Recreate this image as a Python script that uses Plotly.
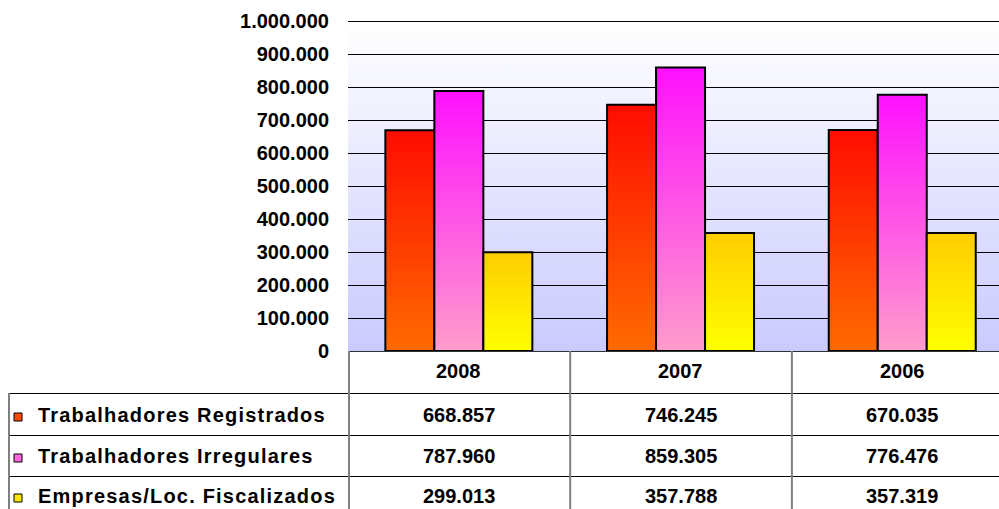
import plotly.graph_objects as go

# Source data
years = ["2008", "2007", "2006"]
series_names = ["Trabalhadores Registrados", "Trabalhadores Irregulares", "Empresas/Loc. Fiscalizados"]
registrados = [668857, 746245, 670035]
irregulares = [787960, 859305, 776476]
empresas = [299013, 357788, 357319]
y_ticks = list(range(0, 1000001, 100000))

series_values = [registrados, irregulares, empresas]
# (bottom colour, top colour) for each series' vertical gradient
series_colors = [("#ff6a00", "#ff0c00"), ("#ff9dcc", "#ff10ff"), ("#ffff00", "#ffcc00")]
key_colors = ["#ff4a00", "#ff66dd", "#ffe600"]

W, H = 999, 509
L, T, B = 348, 21, 351          # plot area pixel edges (left, top, bottom)
R = W
cat_w = 221.7                   # pixel width of one category
x_lo = -0.5
x_hi = x_lo + (R - L) / cat_w
bar_w = 0.221
half_px = 0.5 * y_ticks[-1] / (B - T)   # half a pixel in y units, keeps 1px rules sharp

FONT = "Arial, 'Liberation Sans', sans-serif"


def px_x(px):
    return (px - L) / (R - L)


def px_y(py):
    return (B - py) / (B - T)


fig = go.Figure()

# gradient plot background
fig.add_trace(go.Scatter(
    x=[x_lo, x_lo, x_hi, x_hi, x_lo], y=[0, y_ticks[-1], y_ticks[-1], 0, 0],
    fill="toself", mode="lines", line=dict(width=0),
    fillgradient=dict(type="vertical", colorscale=[[0, "#cacaff"], [1, "#ffffff"]]),
    hoverinfo="skip", showlegend=False,
))

# horizontal gridlines
gx, gy = [], []
for t in y_ticks[1:]:
    gx += [x_lo, x_hi, None]
    gy += [t - half_px, t - half_px, None]
fig.add_trace(go.Scatter(x=gx, y=gy, mode="lines", line=dict(color="black", width=1),
                         hoverinfo="skip", showlegend=False))

# bars as gradient-filled rectangles
for s, (name, vals, (c_bot, c_top)) in enumerate(zip(series_names, series_values, series_colors)):
    for i, v in enumerate(vals):
        cx = i + (s - 1) * bar_w
        x0, x1 = cx - bar_w / 2, cx + bar_w / 2
        fig.add_trace(go.Scatter(
            x=[x0, x0, x1, x1, x0], y=[0, v, v, 0, 0],
            fill="toself", mode="lines", line=dict(color="black", width=2),
            fillgradient=dict(type="vertical", colorscale=[[0, c_bot], [1, c_top]]),
            name=name, text=f"{years[i]}: {v:,}".replace(",", "."), hoverinfo="name+text",
            showlegend=False,
        ))

shapes = []
annotations = []

# data table grid
table_bottom = H + 10
row_lines = [393, 435, 476]
shapes.append(dict(type="line", xref="paper", yref="paper", x0=0, x1=1,
                   y0=px_y(B + 0.5), y1=px_y(B + 0.5), line=dict(color="#303030", width=1)))
for py in row_lines:
    shapes.append(dict(type="line", xref="paper", yref="paper", x0=px_x(9), x1=1,
                       y0=px_y(py + 0.5), y1=px_y(py + 0.5), line=dict(color="black", width=1)))
for vx in [L + 1, L + cat_w + 0.5, L + 2 * cat_w + 0.5]:
    shapes.append(dict(type="line", xref="paper", yref="paper", x0=px_x(vx), x1=px_x(vx),
                       y0=px_y(B), y1=px_y(table_bottom), line=dict(color="#808080", width=2)))
shapes.append(dict(type="line", xref="paper", yref="paper", x0=px_x(9), x1=px_x(9),
                   y0=px_y(393), y1=px_y(table_bottom), line=dict(color="#808080", width=2)))

# header row with the years
for i, yr in enumerate(years):
    annotations.append(dict(x=i, xref="x", y=px_y(371), yref="paper", text=yr,
                            showarrow=False, xanchor="center", yanchor="middle",
                            font=dict(family=FONT, size=20, color="black", weight="bold")))

# value rows with legend keys
row_centers = [415, 456, 496]
for s, (name, vals) in enumerate(zip(series_names, series_values)):
    yc = row_centers[s]
    shapes.append(dict(type="rect", xref="paper", yref="paper",
                       x0=px_x(14), x1=px_x(22), y0=px_y(yc - 2), y1=px_y(yc + 6),
                       fillcolor=key_colors[s], line=dict(color="black", width=1)))
    annotations.append(dict(x=px_x(36), xref="paper", y=px_y(yc), yref="paper",
                            text=f'<span style="letter-spacing:1.2px">{name}</span>',
                            showarrow=False, xanchor="left", yanchor="middle",
                            font=dict(family=FONT, size=20, color="black", weight="bold")))
    for i, v in enumerate(vals):
        annotations.append(dict(x=i, xref="x", y=px_y(yc), yref="paper",
                                text=f"{v:,}".replace(",", "."),
                                showarrow=False, xanchor="center", yanchor="middle",
                                font=dict(family=FONT, size=20, color="black", weight="bold")))

fig.update_layout(
    width=W, height=H,
    margin=dict(l=L, r=W - R, t=T, b=H - B, pad=0),
    paper_bgcolor="white", plot_bgcolor="white",
    separators=",.",
    shapes=shapes, annotations=annotations,
    showlegend=False,
    xaxis=dict(range=[x_lo, x_hi], showticklabels=False, showgrid=False, zeroline=False,
               showline=False, ticks=""),
    yaxis=dict(range=[0, y_ticks[-1]], tickvals=y_ticks, tickformat=",d",
               showgrid=False, zeroline=False, showline=False, ticks="",
               ticklabelstandoff=18,
               tickfont=dict(family=FONT, size=20, color="black", weight="bold")),
)

fig.write_html("out.html")
